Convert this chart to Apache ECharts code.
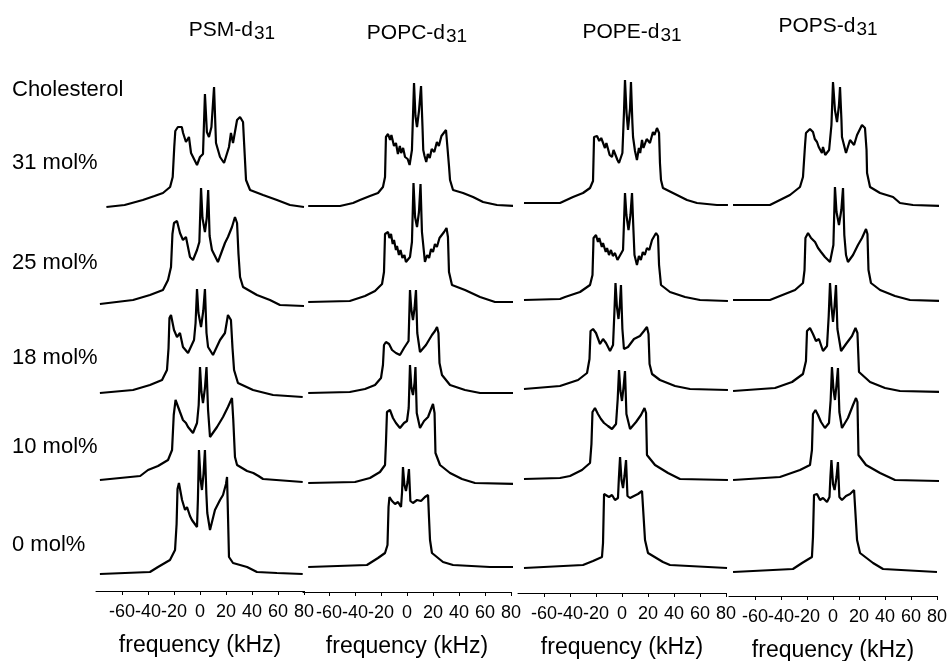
<!DOCTYPE html>
<html>
<head>
<meta charset="utf-8">
<style>
  html, body { margin: 0; padding: 0; background: #fff; }
  #chart { width: 949px; height: 661px; }
</style>
<script src="https://cdn.jsdelivr.net/npm/echarts@6/dist/echarts.min.js"></script>
</head>
<body>
<div id="chart"></div>
<script>
const lipids = ['PSM', 'POPC', 'POPE', 'POPS']
const cholesterol = ['31 mol%', '25 mol%', '18 mol%', '10 mol%', '0 mol%']
const tickValues = [-60, -40, -20, 0, 20, 40, 60, 80]

// spectra: [frequency (kHz), intensity]
const psm31 = [[-72,0],[-58,2],[-44,7],[-35,11],[-28.5,14],[-23,20],[-21,30],[-19.8,60],[-19,76],[-17,80],[-14,80],[-13,74],[-10.8,65],[-8.5,70],[-6.9,54],[-2.3,42],[0,50],[2.3,53],[3.8,113],[5.3,75],[6.9,70],[8.8,80],[10.8,120],[12.3,64],[15.4,50],[18.5,44],[22.3,60],[23.8,74],[25.4,64],[28.5,87],[30.8,90],[33.1,85],[33.8,67],[35.4,27],[38.5,17],[48.5,12],[59.2,7],[69.2,2],[80,0]]
const psm25 = [[-77,0],[-51.5,4],[-38.5,9],[-28.5,14],[-24.6,24],[-22.3,37],[-21.2,70],[-20,81],[-17.7,83],[-15.4,71],[-13.1,64],[-10.8,67],[-7.7,47],[-5.4,44],[-2.3,54],[-0.5,62],[0.8,116],[1.9,86],[3.8,72],[5.2,86],[6.3,114],[7.4,68],[9.2,54],[13.8,42],[19.2,61],[21.5,67],[24.6,77],[26.9,87],[28.5,81],[29.6,50],[30.8,27],[33.1,17],[43.8,9],[53.8,4],[61.5,-1],[80,-2]]
const psm18 = [[-77,0],[-51.5,3],[-38.5,8],[-29.2,13],[-25.4,23],[-24.2,45],[-23.5,75],[-22.3,78],[-20,63],[-17.7,56],[-15.4,60],[-13.1,46],[-9.2,40],[-4.6,53],[-3.4,70],[-2.3,104],[-1.2,80],[0.8,66],[2.5,82],[3.8,104],[5,60],[6.2,46],[10,38],[15.4,53],[19.2,60],[21.5,78],[23.8,73],[25,45],[26.2,23],[29.2,10],[40.8,3],[56.2,-2],[79,-4]]
const psm10 = [[-77,0],[-46,4],[-40,10],[-32.3,14],[-24.6,20],[-21.5,30],[-20.2,65],[-18.8,80],[-17.3,82],[-15.4,68],[-13.1,60],[-10.8,57],[-9.2,53],[-5.4,47],[-2.3,57],[-1,75],[0,113],[1.1,88],[2.3,77],[3.8,92],[5,113],[6.2,70],[7.7,43],[13.1,53],[17.7,63],[21.5,73],[24.6,82],[25.6,60],[26.9,23],[28.5,15],[36.2,9],[41,7],[45,4],[48.5,1],[79,-2]]
const psm0 = [[-77,0],[-38.5,2],[-32.3,7],[-23.1,14],[-19.2,24],[-18,50],[-17.3,85],[-16.2,91],[-13.8,74],[-11.5,64],[-10,67],[-7.7,58],[-6.2,54],[-2.3,47],[-1.6,75],[-0.8,124],[0.4,95],[1.5,84],[2.7,100],[3.8,124],[4.9,80],[5.6,61],[7.7,44],[11.5,64],[15.4,74],[17.7,79],[20,90],[20.8,97],[21.5,60],[22.3,17],[25.4,11],[36.2,7],[43.8,2],[59.2,1],[79,0]]

const popc31 = [[-76,0],[-51.5,0],[-41.5,3],[-36.2,6],[-28.5,10],[-22.3,13],[-18.5,19],[-16.9,29],[-16.2,69],[-14.6,72],[-13,66],[-12,71],[-10,60],[-8.5,63],[-7,52],[-5.5,60],[-4.5,53],[-3,58],[-1.5,49],[0.5,47],[2,41],[3.8,56],[4.6,90],[5.4,123],[6.5,90],[7.7,79],[9.2,95],[10.8,120],[11.9,80],[12.5,56],[13.5,50],[14.8,44],[16,52],[17.5,48],[19,57],[21,54],[23,64],[24.5,60],[26.5,70],[28,68],[30,76],[31.5,74],[32.3,40],[33.1,26],[35.4,16],[43.1,13],[50.8,9],[58.5,4],[69.2,1],[84,0]]
const popc25 = [[-76,0],[-44,1],[-32.3,6],[-24.6,11],[-19.2,18],[-17.7,30],[-16.9,68],[-14.6,70],[-13.5,64],[-12.3,68],[-11,58],[-10,62],[-8.5,52],[-7.7,56],[-6.2,47],[-5,52],[-3.5,44],[-2,47],[-0.8,40],[2.3,45],[3.8,60],[5,119],[6.2,85],[7.7,75],[9.2,90],[10.4,118],[11.5,70],[13.8,40],[15.5,47],[17,44],[18.5,53],[20,50],[21.5,58],[23,55],[25,64],[26.5,62],[28.5,70],[30.4,74],[31.5,65],[32.3,30],[34.6,17],[44.6,12],[56.2,5],[67.7,0],[84,0]]
const popc18 = [[-76,0],[-44,1],[-32.3,4],[-24.6,8],[-20,15],[-18.5,28],[-17.7,48],[-16.2,51],[-13.8,49],[-11.5,43],[-8.5,40],[-5.4,38],[-2.3,45],[1.2,52],[2.3,103],[3.3,84],[4.6,73],[5.8,85],[6.9,103],[7.9,60],[10,41],[14.6,48],[19.2,58],[21.5,62],[23.1,66],[24.2,60],[25,30],[26.9,18],[33.1,8],[44.6,3],[56.2,0],[84,0]]
const popc10 = [[-76,0],[-40,1],[-28.5,5],[-20.8,11],[-16.9,18],[-16.2,40],[-15.4,71],[-13.1,73],[-10.8,65],[-8.5,60],[-5.4,55],[-2.3,60],[0,62],[1.3,75],[2.3,118],[3.4,95],[4.6,88],[5.8,100],[6.5,116],[7.5,70],[10,55],[13.1,62],[16.2,66],[18.5,74],[20,79],[21.2,70],[21.9,30],[25.4,18],[33.1,10],[42.3,4],[52.3,0],[84,-1]]
const popc0 = [[-76,0],[-30.8,2],[-22.3,9],[-16.9,14],[-15,22],[-14.2,60],[-13.5,70],[-11.5,66],[-9.2,63],[-6.9,65],[-4.6,60],[-3.8,75],[-3.1,100],[-2,82],[-0.8,76],[0.4,85],[1.5,98],[2.6,66],[4.6,64],[7.7,67],[10.8,66],[13.8,70],[16.2,72],[16.9,50],[17.7,27],[19.2,14],[27.7,5],[35.4,2],[63.8,0],[84,0]]

const pope31 = [[-75.4,0],[-47.7,0],[-37.7,6],[-30,10],[-24.6,15],[-22.3,22],[-21.5,66],[-19.2,67],[-17.5,62],[-16,65],[-15.4,63],[-13.1,55],[-12,60],[-10.8,58],[-9.5,48],[-7.7,46],[-6.5,53],[-5.4,51],[-3.5,43],[-2.3,40],[0.3,50],[1.5,90],[2.3,123],[3.5,90],[4.6,73],[6.2,95],[6.9,121],[8,80],[8.5,66],[10,52],[11.5,43],[13,55],[14,50],[15.4,63],[16.5,55],[17.7,53],[19,64],[20,66],[21.5,60],[23.8,71],[25,68],[26.9,75],[28.5,70],[29.2,40],[30,23],[31.5,15],[39.2,10],[50,3],[57.7,0],[73,-2],[81.5,-2]]
const pope25 = [[-75.4,0],[-47.7,1],[-43.8,3],[-32.3,8],[-24.6,15],[-22.7,25],[-21.9,62],[-20,65],[-18.5,58],[-17.5,62],[-15.5,53],[-14.6,57],[-12.5,48],[-11.5,52],[-10,45],[-8.5,50],[-7,44],[-5.4,47],[-3.5,40],[-2.3,38],[0.8,50],[1.6,80],[2.3,107],[3.4,85],[5,70],[6.5,85],[7.7,107],[8.8,70],[9.6,45],[11.5,35],[13,44],[14.5,40],[16,48],[17.5,45],[19.2,52],[21,50],[23.1,60],[24.5,58],[26.2,67],[27.7,64],[28.5,35],[30,15],[36.9,8],[48.5,3],[60,0],[81.5,-1]]
const pope18 = [[-75.4,0],[-47.7,3],[-33.8,9],[-26.9,16],[-25,30],[-24.2,58],[-22.3,60],[-20,56],[-16.9,45],[-14.6,50],[-12.3,46],[-9.2,38],[-6.9,44],[-5.9,75],[-5,106],[-3.9,82],[-2.7,70],[-1.6,85],[-0.8,104],[0.3,60],[1.5,40],[4.6,42],[9.2,50],[13.8,53],[16.9,58],[19.2,62],[20.4,55],[21.2,25],[23.1,15],[29.2,9],[40.8,3],[52.3,0],[81.5,-1]]
const pope10 = [[-75.4,0],[-47.7,1],[-40,3],[-30.8,9],[-24.6,16],[-23.5,35],[-22.7,67],[-20.8,71],[-18.5,65],[-16.2,60],[-13.8,56],[-10.8,53],[-7.7,50],[-4.6,55],[-3.3,80],[-2.3,109],[-1.2,88],[0,78],[1.2,92],[2.3,108],[3.4,65],[6.2,50],[10.8,57],[14.6,64],[17.3,71],[18.5,66],[19.2,24],[25.4,14],[35.4,6],[44.6,0],[81.5,-1]]
const pope0 = [[-75.4,0],[-30,3],[-22.3,7],[-15.4,11],[-14.6,25],[-13.8,74],[-12.3,76],[-10,71],[-7.7,73],[-5.4,68],[-3.1,70],[-2.4,90],[-1.5,111],[-0.4,88],[0.8,80],[1.9,92],[3.1,108],[4.2,72],[6.2,70],[9.2,72],[12.3,74],[15.4,77],[16.9,76],[17.7,28],[20,15],[31.5,6],[36.9,3],[80.8,0]]

const pops31 = [[-76.9,0],[-48.5,0],[-40.8,5],[-33.1,10],[-25.4,18],[-23.1,28],[-21.5,60],[-20.8,72],[-17.7,76],[-15.4,73],[-14,66],[-12.3,63],[-11,58],[-10,60],[-8.5,52],[-7.7,58],[-6,50],[-4.6,48],[-3,55],[-1.2,80],[0,123],[1.5,95],[3.1,83],[4.6,100],[5.4,118],[6.5,85],[6.9,68],[10,52],[13.1,65],[16.2,60],[18.5,70],[22.3,80],[24.6,77],[25.8,55],[26.2,32],[28.5,18],[36.2,12],[46.2,8],[51.5,2],[61.5,0],[82.3,-1]]
const pops25 = [[-76.9,0],[-48.5,0],[-40.8,4],[-29.2,10],[-23.1,17],[-21.9,30],[-21.2,62],[-19.2,67],[-16.9,62],[-13.8,58],[-11.5,52],[-9.2,48],[-6.2,43],[-2.3,38],[0.3,55],[1.5,113],[2.7,88],[4.6,75],[6.4,90],[7.7,112],[8.7,65],[10,45],[11.5,38],[15.4,45],[19.2,55],[22.3,62],[25.4,71],[26.5,66],[27.3,30],[29.2,17],[36.2,10],[47.7,4],[59.2,0],[82.3,-1]]
const pops18 = [[-76.9,0],[-44.6,3],[-31.5,9],[-23.1,17],[-20.8,30],[-20,60],[-17.7,63],[-15.4,57],[-13.1,50],[-10.8,52],[-7.7,40],[-4.6,45],[-3.3,75],[-2.3,108],[-1.2,85],[0,69],[1.2,85],[2.3,106],[3.4,62],[6.2,40],[10,47],[14.6,55],[17.3,63],[18.8,58],[20,19],[28.5,9],[40,3],[51.5,0],[82.3,-1]]
const pops10 = [[-76.9,0],[-40.8,3],[-25.4,10],[-17.7,15],[-16.2,30],[-15.4,66],[-13.5,70],[-11.5,65],[-9.2,58],[-6.2,52],[-3.1,57],[-1.8,80],[-0.8,113],[0.4,90],[1.5,80],[2.7,95],[3.8,112],[4.9,68],[6.9,52],[11.5,62],[15.4,75],[17.7,82],[18.8,78],[19.6,25],[25.4,15],[36.2,7],[47.7,0],[82.3,-1]]
const pops0 = [[-76.9,0],[-30.8,3],[-23.8,9],[-16.2,15],[-15.4,35],[-14.6,77],[-12.3,78],[-10,72],[-7.7,74],[-4.6,70],[-2.7,75],[-2,95],[-1.2,112],[0,88],[1.2,82],[2.7,95],[3.8,110],[4.9,75],[6.9,72],[10,76],[13.1,78],[16.2,82],[17.7,80],[18.5,32],[20.8,19],[30.8,9],[38.5,3],[80,0]]

const spectra = [
  [psm31, psm25, psm18, psm10, psm0],
  [popc31, popc25, popc18, popc10, popc0],
  [pope31, pope25, pope18, pope10, pope0],
  [pops31, pops25, pops18, pops10, pops0]
]

// layout (pixels)
const FONT = '"Liberation Sans", Arial, sans-serif'
const zeroX = [200, 407, 622, 833]          // where 0 kHz sits in each column
const pxPerKHz = 1.3
const baseY = [
  [207, 304, 393, 480, 574],
  [206, 302, 393, 483, 567],
  [203, 300, 389, 479, 568],
  [205, 300, 391, 480, 572]
]
const axisY = [591, 592, 593, 596]
const titleXY = [[232, 30], [417, 33], [632, 32], [828, 26]]
const rowLabelY = [163, 263, 358, 447, 545]
const spanH = 140

const grids = []
const xAxes = []
const yAxes = []
const series = []

lipids.forEach((lipid, c) => {
  const left = zeroX[c] - 80 * pxPerKHz
  const width = 160 * pxPerKHz
  cholesterol.forEach((chol, r) => {
    const i = grids.length
    grids.push({ left: left, width: width, top: baseY[c][r] - spanH, height: spanH, outerBoundsMode: 'none' })
    xAxes.push({ gridIndex: i, type: 'value', min: -80, max: 80, show: false })
    yAxes.push({ gridIndex: i, type: 'value', min: 0, max: spanH, show: false })
    series.push({
      name: lipid + ' ' + chol,
      type: 'line',
      xAxisIndex: i,
      yAxisIndex: i,
      data: spectra[c][r],
      showSymbol: false,
      clip: false,
      silent: true,
      lineStyle: { color: '#000', width: 2.2 }
    })
  })
  // frequency axis under each column
  const i = grids.length
  grids.push({ left: left, width: width, top: axisY[c] - 10, height: 10, outerBoundsMode: 'none' })
  xAxes.push({
    gridIndex: i,
    type: 'value',
    min: -80,
    max: 80,
    interval: 20,
    name: 'frequency (kHz)',
    nameLocation: 'middle',
    nameGap: 43,
    nameTextStyle: { color: '#000', fontSize: 23, fontFamily: FONT },
    axisLine: { show: true, onZero: false, lineStyle: { color: '#000', width: 1 } },
    axisTick: { show: true, length: 4, customValues: tickValues, lineStyle: { color: '#000' } },
    axisLabel: { customValues: tickValues, hideOverlap: false, color: '#000', fontSize: 18, fontFamily: FONT, margin: 12 },
    splitLine: { show: false }
  })
  yAxes.push({ gridIndex: i, type: 'value', min: 0, max: 1, show: false })
})

const graphics = []
lipids.forEach((lipid, c) => {
  graphics.push({
    type: 'text',
    x: titleXY[c][0],
    y: titleXY[c][1],
    style: {
      text: '{m|' + lipid + '-d}{s|31}',
      align: 'center',
      verticalAlign: 'middle',
      fill: '#000',
      rich: {
        m: { fontSize: 21, fontFamily: FONT, fill: '#000' },
        s: { fontSize: 19, fontFamily: FONT, fill: '#000', padding: [8, 0, 0, 1] }
      }
    }
  })
})
graphics.push({
  type: 'text', x: 12, y: 90,
  style: { text: 'Cholesterol', fontSize: 22, fontFamily: FONT, fill: '#000', verticalAlign: 'middle' }
})
cholesterol.forEach((chol, r) => {
  graphics.push({
    type: 'text', x: 12, y: rowLabelY[r],
    style: { text: chol, fontSize: 22, fontFamily: FONT, fill: '#000', verticalAlign: 'middle' }
  })
})

const chart = echarts.init(document.getElementById('chart'))
chart.setOption({
  animation: false,
  backgroundColor: '#fff',
  grid: grids,
  xAxis: xAxes,
  yAxis: yAxes,
  series: series,
  graphic: graphics
})
</script>
</body>
</html>
